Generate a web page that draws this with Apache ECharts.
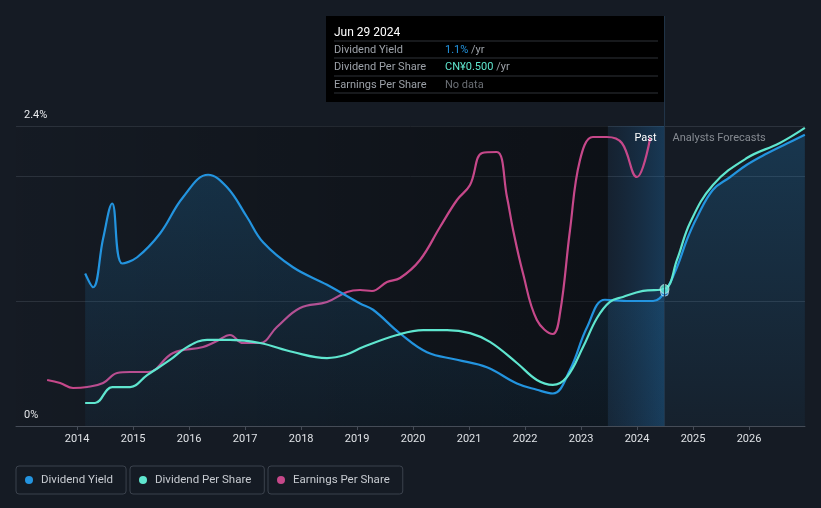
<!DOCTYPE html>
<html><head><meta charset="utf-8">
<script src="https://cdn.jsdelivr.net/npm/echarts@6/dist/echarts.min.js"></script>
<style>html,body{margin:0;padding:0;background:#151b24;}#c{width:821px;height:508px;}</style>
</head><body><div id="c"></div>
<script>
// ---- data ----
const yearTicks = [2014,2015,2016,2017,2018,2019,2020,2021,2022,2023,2024,2025,2026];
const yLabelValues = [0, 2.4];
const yLabelTexts = ['0%', '2.4%'];
const xStart = '2012-11-28';
const xEnd = '2026-12-31';
const pastBandStart = '2023-06-25';
const nowDate = '2024-06-29';
const legendNames = ['Dividend Yield', 'Dividend Per Share', 'Earnings Per Share'];
const tooltipTitle = 'Jun 29 2024';
const tooltipLabels = ['Dividend Yield', 'Dividend Per Share', 'Earnings Per Share'];
const tooltipValues = ['1.1%', 'CN¥0.500', 'No data'];
const tooltipUnits = [' /yr', ' /yr', ''];

// Dividend Yield (%)
const dividendYield = [
 ['2014-02-22',1.22],['2014-04-15',1.11],['2014-06-19',1.50],['2014-08-17',1.78],['2014-10-21',1.30],
 ['2015-01-27',1.35],['2015-06-25',1.54],['2015-11-22',1.83],['2016-05-04',2.01],['2016-09-05',1.91],
 ['2017-01-14',1.67],['2017-04-28',1.47],['2017-11-09',1.27],['2018-06-19',1.13],['2019-01-20',0.98],
 ['2019-04-15',0.93],['2019-10-08',0.74],['2020-04-01',0.59],['2020-10-14',0.53],['2021-04-27',0.47],
 ['2021-11-09',0.34],['2022-03-19',0.29],['2022-07-01',0.26],['2022-10-21',0.45],['2023-02-09',0.79],
 ['2023-06-06',1.01],['2023-11-15',1.00],['2024-04-15',1.00],['2024-06-29',1.07],
 ['2024-09-18',1.27],['2024-11-22',1.49],['2025-01-27',1.67],['2025-05-11',1.89],['2025-08-29',1.99],
 ['2025-12-18',2.09],['2026-04-27',2.18],['2026-09-05',2.26],['2026-12-31',2.33]
];
// Dividend Per Share (CN¥)
const dividendPerShare = [
 ['2014-02-22',0.084],['2014-04-27',0.084],['2014-08-17',0.142],['2014-12-12',0.142],['2015-04-02',0.186],
 ['2015-08-29',0.241],['2015-12-18',0.288],['2016-04-27',0.314],['2016-09-24',0.314],['2017-04-08',0.303],
 ['2017-11-09',0.270],['2018-06-19',0.248],['2018-10-15',0.259],['2019-02-09',0.288],['2019-09-18',0.332],
 ['2020-03-07',0.350],['2020-08-10',0.350],['2021-01-07',0.339],['2021-05-17',0.307],['2021-11-09',0.230],
 ['2022-03-19',0.168],['2022-07-01',0.150],['2022-10-01',0.179],['2023-01-14',0.288],['2023-04-15',0.394],
 ['2023-07-08',0.453],['2023-10-01',0.471],['2024-02-09',0.493],['2024-06-29',0.500],
 ['2024-09-18',0.606],['2024-12-12',0.741],['2025-05-11',0.880],['2025-12-18',0.978],['2026-07-21',1.033],
 ['2026-12-31',1.088]
];
// Earnings Per Share (CN¥)
const earningsPerShare = [
 ['2013-06-19',0.46],['2013-09-12',0.43],['2013-12-05',0.38],['2014-03-07',0.39],['2014-06-19',0.43],
 ['2014-09-18',0.53],['2014-12-12',0.54],['2015-04-08',0.54],['2015-09-18',0.73],['2016-04-01',0.79],
 ['2016-07-01',0.85],['2016-09-24',0.91],['2016-12-18',0.83],['2017-04-08',0.83],['2017-07-27',0.99],
 ['2017-12-25',1.18],['2018-06-19',1.24],['2018-10-27',1.34],['2019-01-20',1.36],['2019-04-08',1.35],
 ['2019-07-15',1.44],['2019-10-08',1.48],['2020-02-15',1.66],['2020-06-25',1.99],['2020-10-14',2.26],
 ['2021-01-07',2.41],['2021-03-27',2.73],['2021-07-01',2.74],['2021-09-05',2.29],['2021-10-15',1.96],
 ['2021-12-18',1.53],['2022-03-19',1.06],['2022-07-01',0.92],['2022-08-17',1.13],['2022-10-21',1.96],
 ['2022-12-25',2.66],['2023-03-19',2.89],['2023-06-19',2.89],['2023-09-24',2.83],['2024-01-01',2.49],
 ['2024-02-09',2.59],['2024-03-27',2.88]
];
const nowYield = [['2024-06-29',1.07]];
const nowDps = [['2024-06-29',0.500]];

// ---- helpers ----
function dy(s){ const d=new Date(s+'T00:00:00Z'); const y=d.getUTCFullYear();
  const a=Date.UTC(y,0,1), b=Date.UTC(y+1,0,1); return y+(d.getTime()-a)/(b-a); }
const conv = arr => arr.map(p=>[dy(p[0]), p[1]]);

const BLUE='#2394df', TEAL='#5fe6cf', PINK='#c6488a';
const FONT='Roboto, "Noto Sans", sans-serif';
const chart = echarts.init(document.getElementById('c'), null, {renderer:'canvas'});
const xMin = dy(xStart), xMax = dy(xEnd)+1/365, bandX = dy(pastBandStart), nowX = dy(nowDate);

function legendCfg(i, left){
  const colors=[BLUE,TEAL,PINK];
  return {data:[{name:legendNames[i], itemStyle:{color:colors[i]}}], left:left, top:466, orient:'horizontal',
    icon:'circle', itemWidth:14, itemHeight:8, itemGap:0, padding:[8,13,8,9],
    borderColor:'#3b424d', borderWidth:1, borderRadius:3,
    textStyle:{color:'#c7cbd1', fontSize:11.5, fontFamily:FONT}, selectedMode:false};
}

const option = {
  backgroundColor:'#151b24',
  animation:false,
  textStyle:{fontFamily:FONT},
  grid:{left:16, right:16, top:126, bottom:82, containLabel:false},
  legend:[legendCfg(0,16), legendCfg(1,130), legendCfg(2,268)],
  xAxis:{type:'value', min:xMin, max:xMax,
    axisLine:{lineStyle:{color:'#454c57', width:1}},
    axisTick:{show:true, customValues:yearTicks, length:4, lineStyle:{color:'#454c57'}},
    axisLabel:{customValues:yearTicks, color:'#dfe2e6', fontSize:11, margin:8, formatter:v=>String(Math.round(v))},
    splitLine:{show:false}},
  yAxis:[
    {type:'value', min:0, max:2.4, interval:1, position:'left',
     axisLine:{show:false}, axisTick:{show:false},
     splitLine:{lineStyle:{color:'#2c333d', width:1}},
     axisLabel:{inside:true, margin:8, color:'#e8eaed', fontSize:11, verticalAlign:'bottom', padding:[0,0,5,0],
       formatter:v=>{const i=yLabelValues.findIndex(x=>Math.abs(x-v)<1e-6); return i>=0?yLabelTexts[i]:'';}}},
    {type:'value', min:0, max:1.095, show:false, splitLine:{show:false}},
    {type:'value', min:0, max:3.0, show:false, splitLine:{show:false}}
  ],
  series:[
    {name:legendNames[0], type:'line', data:conv(dividendYield), smooth:0.4, symbol:'none', z:3,
     lineStyle:{color:BLUE, width:2.2}, itemStyle:{color:BLUE},
     areaStyle:{color:new echarts.graphic.LinearGradient(0,0,0,1,[{offset:0,color:'rgba(35,148,223,0.32)'},{offset:1,color:'rgba(35,148,223,0.07)'}])},
     markArea:{silent:true, data:[
       [{xAxis:xMin, itemStyle:{color:new echarts.graphic.LinearGradient(0,0,1,0,[{offset:0,color:'rgba(0,0,0,0.02)'},{offset:1,color:'rgba(0,0,0,0.38)'}])}},{xAxis:bandX}],
       [{xAxis:bandX, itemStyle:{color:new echarts.graphic.LinearGradient(0,0,1,0,[{offset:0,color:'rgba(25,90,150,0.10)'},{offset:1,color:'rgba(30,120,190,0.32)'}])}},{xAxis:nowX}]
     ]}},
    {name:legendNames[1], type:'line', yAxisIndex:1, data:conv(dividendPerShare), smooth:0.4, symbol:'none', z:4,
     lineStyle:{color:TEAL, width:2.2}, itemStyle:{color:TEAL}},
    {name:legendNames[2], type:'line', yAxisIndex:2, data:conv(earningsPerShare), smooth:0.4, symbol:'none', z:2,
     lineStyle:{color:PINK, width:2.2}, itemStyle:{color:PINK}},
    {type:'scatter', data:conv(nowYield), symbolSize:8, z:5, itemStyle:{color:BLUE, borderColor:'rgba(255,255,255,0.7)', borderWidth:1}},
    {type:'scatter', yAxisIndex:1, data:conv(nowDps), symbolSize:9, z:6, itemStyle:{color:TEAL, borderColor:'rgba(255,255,255,0.7)', borderWidth:1}}
  ]
};
chart.setOption(option);

// decorations positioned from the axis scale
const nowPx = chart.convertToPixel({xAxisIndex:0}, nowX);
const topPx = chart.convertToPixel({yAxisIndex:0}, 2.4);
const zeroPx = chart.convertToPixel({yAxisIndex:0}, 0);
const tipW = 339, tipH = 86, tipL = Math.round(nowPx) - tipW, tipT = 16;
const rowY = [33, 50, 67, 85];
const lineY = [25, 42, 60, 77];
const tipChildren = [{type:'rect', shape:{x:0,y:0,width:tipW,height:tipH}, style:{fill:'#000'}},
  {type:'text', x:8, y:rowY[0]-tipT, style:{text:tooltipTitle, fill:'#fff', fontSize:12, fontFamily:FONT, verticalAlign:'middle'}}];
for (let i=0;i<4;i++) tipChildren.push({type:'line', shape:{x1:8,y1:lineY[i],x2:332,y2:lineY[i]}, style:{stroke:'#2e3238', lineWidth:1}});
const valColors=[BLUE,TEAL,'#6b6f75'];
for (let i=0;i<3;i++){
  tipChildren.push({type:'text', x:8, y:rowY[i+1]-tipT, style:{text:tooltipLabels[i], fill:'#9ca1a8', fontSize:11, fontFamily:FONT, verticalAlign:'middle'}});
  tipChildren.push({type:'text', x:119, y:rowY[i+1]-tipT, style:{text:'{v|'+tooltipValues[i]+'}{u|'+tooltipUnits[i]+'}', fontSize:11, fontFamily:FONT, verticalAlign:'middle',
    rich:{v:{fill:valColors[i], fontSize:11, fontFamily:FONT}, u:{fill:'#9ca1a8', fontSize:11, fontFamily:FONT}}}});
}
chart.setOption({graphic:[
  {type:'line', shape:{x1:nowPx,y1:tipT,x2:nowPx,y2:zeroPx}, style:{stroke:'#23374b', lineWidth:1}, z:10},
  {type:'group', left:tipL, top:tipT, children:tipChildren, z:20},
  {type:'text', x:nowPx-8, y:topPx+12, style:{text:'Past', fill:'#ffffff', fontSize:11, fontFamily:FONT, align:'right', verticalAlign:'middle'}, z:20},
  {type:'text', x:nowPx+8, y:topPx+12, style:{text:'Analysts Forecasts', fill:'#868b92', fontSize:11, fontFamily:FONT, align:'left', verticalAlign:'middle'}, z:20}
]});
</script></body></html>
